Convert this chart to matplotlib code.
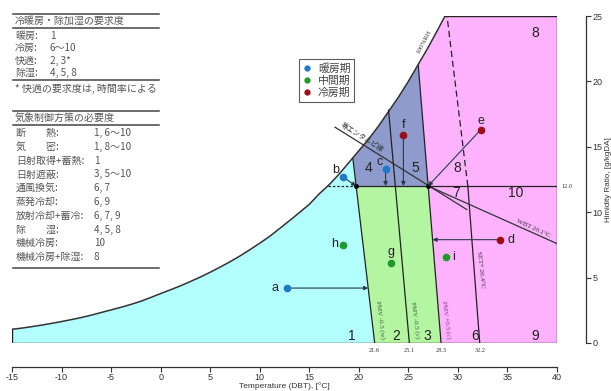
import numpy as np
import matplotlib.pyplot as plt
from matplotlib.lines import Line2D
from matplotlib.patches import Polygon

plt.rcParams['font.family'] = ['Noto Sans CJK JP', 'DejaVu Sans']
plt.rcParams['axes.unicode_minus'] = False

# 飽和曲線 (100%RH): 乾球温度 [°C], 絶対湿度 [g/kgDA]
sat_t = [-15, -14, -13, -12, -11, -10, -9, -8, -7, -6, -5, -4, -3, -2, -1, 0, 1, 2, 3, 4, 5,
         6, 7, 8, 9, 10, 11, 12, 13, 14, 15, 16, 17, 18, 19, 20, 21, 22, 23, 24, 25, 26, 27, 28, 28.7]
sat_w = [1.05, 1.14, 1.25, 1.37, 1.50, 1.64, 1.79, 1.95, 2.13, 2.33, 2.53, 2.73, 2.95, 3.19, 3.48,
         3.78, 4.07, 4.37, 4.70, 5.04, 5.41, 5.80, 6.21, 6.65, 7.13, 7.63, 8.15, 8.75, 9.35, 9.97,
         10.6, 11.4, 12.1, 12.9, 13.8, 14.7, 15.6, 16.6, 17.7, 18.8, 20.0, 21.3, 22.6, 24.0, 25.0]

# PMV線 (下端の温度と飽和曲線上の上端)
pmv_base = [21.6, 25.1, 28.3]
pmv_top_t = [19.4, 23.0, 26.0]
pmv_top_w = [14.1, 17.8, 21.2]
pmv_names = ['PMV -0.5 (w)', 'PMV -0.5 (c)', 'PMV +0.5 (c)']
pmv_colors = ['#3d5a3d', '#3d5a3d', '#8a2a8a']

# SET* 26.4°C
set_t = [32.2, 31.0, 28.9]
set_w = [0.0, 12.0, 25.0]

w_limit = 12.0
enth_t = [17.6, 30.9]
enth_w = [16.5, 10.2]
wbt_t = [27.0, 40.0]
wbt_w = [12.0, 7.6]

# 代表点
pt_names = ['a', 'b', 'c', 'd', 'e', 'f', 'g', 'h', 'i']
pt_t = [12.8, 18.4, 22.7, 34.2, 32.3, 24.5, 23.2, 18.4, 28.8]
pt_w = [4.2, 12.7, 13.3, 7.9, 16.3, 15.9, 6.1, 7.5, 6.6]
pt_season = ['暖房期', '暖房期', '暖房期', '冷房期', '冷房期', '冷房期', '中間期', '中間期', '中間期']
season_names = ['暖房期', '中間期', '冷房期']
season_colors = ['#1f78c8', '#1e9a2a', '#9a0f1a']

# 領域番号
zone_names = ['1', '2', '3', '4', '5', '6', '7', '8', '9', '10', '8']
zone_t = [19.3, 23.75, 26.95, 20.95, 25.7, 31.7, 29.8, 29.9, 37.8, 35.8, 37.8]
zone_w = [0.5, 0.5, 0.5, 13.4, 13.4, 0.5, 11.5, 13.4, 0.5, 11.5, 23.7]

# 表
tab1_title = '冷暖房・除加湿の要求度'
tab1_keys = ['暖房:', '冷房:', '快適:', '除湿:']
tab1_vals = ['1', '6〜10', '2, 3*', '4, 5, 8']
tab1_note = '* 快適の要求度は, 時間率による'
tab2_title = '気象制御方策の必要度'
tab2_keys = ['断　　熱:', '気　　密:', '日射取得+蓄熱:', '日射遮蔽:', '通風換気:', '蒸発冷却:',
             '放射冷却+蓄冷:', '除　　湿:', '機械冷房:', '機械冷房+除湿:']
tab2_vals = ['1, 6〜10', '1, 8〜10', '1', '3, 5〜10', '6, 7', '6, 9', '6, 7, 9', '4, 5, 8', '10', '8']

sat_t = np.array(sat_t)
sat_w = np.array(sat_w)


def pmv_t(i, w):
    return pmv_base[i] + (pmv_top_t[i] - pmv_base[i]) * w / pmv_top_w[i]


t1 = pmv_t(0, w_limit)
t3 = pmv_t(2, w_limit)
t_sat12 = np.interp(w_limit, sat_w, sat_t)

fig = plt.figure(figsize=(6.11, 3.91), dpi=100)
ax = fig.add_axes([12 / 611, 48 / 391, 545 / 611, 327 / 391])
ax.set_xlim(-15, 40)
ax.set_ylim(0, 25)

# 塗り分け
m = sat_t < pmv_top_t[0]
cyan = [(-15, 0), (pmv_base[0], 0), (pmv_top_t[0], pmv_top_w[0])] + list(zip(sat_t[m][::-1], sat_w[m][::-1]))
green = [(pmv_base[0], 0), (pmv_base[2], 0), (t3, w_limit), (t1, w_limit)]
m = (sat_t > pmv_top_t[0]) & (sat_t < pmv_top_t[2])
blue = [(t1, w_limit), (t3, w_limit), (pmv_top_t[2], pmv_top_w[2])] + \
    list(zip(sat_t[m][::-1], sat_w[m][::-1])) + [(pmv_top_t[0], pmv_top_w[0])]
m = sat_t > pmv_top_t[2]
pink = [(pmv_base[2], 0), (40, 0), (40, 25)] + list(zip(sat_t[m][::-1], sat_w[m][::-1])) + \
    [(pmv_top_t[2], pmv_top_w[2])]
for poly, col in [(cyan, '#b3ffff'), (green, '#b4f5a2'), (blue, '#8e9bcc'), (pink, '#ffb3ff')]:
    ax.add_patch(Polygon(poly, closed=True, facecolor=col, edgecolor='none'))

lc = '#222222'
ax.plot(sat_t, sat_w, color='#333333', lw=1.1)
ax.plot([-15, 40], [0, 0], color=lc, lw=1.0)
ax.plot([40, 40], [0, 25], color=lc, lw=1.0)
ax.plot([sat_t[-1], 40], [25, 25], color=lc, lw=1.0)
ax.plot([-15, -15], [0, sat_w[0]], color=lc, lw=1.0)
for i in range(3):
    ax.plot([pmv_base[i], pmv_top_t[i]], [0, pmv_top_w[i]], color=lc, lw=0.9)
ax.plot(set_t[:2], set_w[:2], color=lc, lw=0.9)
ax.plot(set_t[1:], set_w[1:], color=lc, lw=0.9, dashes=(5, 3))
ax.plot([t1, 40], [w_limit, w_limit], color=lc, lw=0.9)
ax.plot([t_sat12, t1], [w_limit, w_limit], color=lc, lw=0.9, dashes=(2, 1.5))
ax.plot(enth_t, enth_w, color='#333333', lw=0.9)
ax.plot(wbt_t, wbt_w, color='#333333', lw=0.9)
ax.plot([t1, t3], [w_limit, w_limit], 'o', color='black', ms=2.5)

# 線のラベル
serif = 'Liberation Serif'
for i in range(3):
    ax.text(pmv_base[i] + 0.55, 1.8, pmv_names[i], rotation=-83, fontsize=5, family=serif,
            color=pmv_colors[i], ha='center', va='center')
    ax.text(pmv_base[i], -0.55, f'{pmv_base[i]:.1f}', fontsize=4.5, family=serif,
            color='#333333', ha='center', va='center')
ax.text(set_t[0], -0.55, f'{set_t[0]:.1f}', fontsize=4.5, family=serif, color='#333333',
        ha='center', va='center')
ax.text(32.3, 5.6, 'SET* 26.4°C', rotation=-84, fontsize=5, family=serif, color='#333333',
        ha='center', va='center')
ax.text(40.5, w_limit, '12.0', fontsize=4.5, family=serif, color='#333333', ha='left', va='center')
ax.text(37.6, 8.75, 'WBT 20.1°C', rotation=-25, fontsize=5, family=serif, color='#333333',
        ha='center', va='center')
ax.text(26.6, 23.0, '100%RH', rotation=62, fontsize=5, family=serif, color='#333333',
        ha='center', va='center')
ax.text(20.3, 15.75, '等エンタルピ線', rotation=-32, fontsize=5, color='#333333',
        ha='center', va='center')

for name, t, w in zip(zone_names, zone_t, zone_w):
    ax.text(t, w, name, fontsize=10, color='#222222', ha='center', va='center', family='Liberation Sans')

# 代表点と矢印
for name, t, w, s in zip(pt_names, pt_t, pt_w, pt_season):
    ax.plot(t, w, 'o', color=season_colors[season_names.index(s)], ms=4.5, zorder=5)

arrow_to = {'a': (pmv_t(0, pt_w[0]), pt_w[0]), 'b': (t1, w_limit), 'c': (pt_t[2], w_limit),
            'd': (pmv_t(2, pt_w[3]), pt_w[3]), 'e': (t3, w_limit), 'f': (pt_t[5], w_limit)}
for name, t, w in zip(pt_names, pt_t, pt_w):
    if name in arrow_to:
        ax.annotate('', xy=arrow_to[name], xytext=(t, w),
                    arrowprops=dict(arrowstyle='-|>', color='#2a3a4a', lw=0.8,
                                    mutation_scale=6, shrinkA=2, shrinkB=0))

label_off = {'a': (-0.9, 0, 'right'), 'b': (-0.4, 0.55, 'right'), 'c': (-0.3, 0.55, 'right'),
             'd': (0.8, 0, 'left'), 'e': (0, 0.7, 'center'), 'f': (0, 0.8, 'center'),
             'g': (0, 0.85, 'center'), 'h': (-0.5, 0.05, 'right'), 'i': (0.6, 0, 'left')}
for name, t, w in zip(pt_names, pt_t, pt_w):
    dx, dy, ha = label_off[name]
    ax.text(t + dx, w + dy, name, fontsize=9, color='#222222', ha=ha, va='center',
            family='Liberation Sans')

# 軸
for s in ['top', 'left']:
    ax.spines[s].set_visible(False)
ax.spines['bottom'].set_position(('outward', 17))
ax.spines['right'].set_position(('outward', 21))
ax.spines['bottom'].set_bounds(-15, 40)
ax.spines['right'].set_bounds(0, 25)
for s in ['bottom', 'right']:
    ax.spines[s].set_color('#333333')
    ax.spines[s].set_linewidth(0.9)
ax.yaxis.tick_right()
ax.yaxis.set_label_position('right')
ax.set_xticks(range(-15, 41, 5))
ax.set_yticks(range(0, 26, 5))
ax.tick_params(labelsize=6.5, colors='#333333', length=3.5, width=0.8, pad=1)
for lab in ax.get_xticklabels() + ax.get_yticklabels():
    lab.set_family('Liberation Sans')
ax.set_xlabel('Temperature (DBT), [°C]', fontsize=6, color='#333333', labelpad=0,
              family='Liberation Sans')
ax.set_ylabel('Himidity Ratio, [g/kgDA]', fontsize=5.8, color='#333333', labelpad=1.5,
              family='Liberation Sans')

# 左上の表
ov = fig.add_axes([0, 0, 1, 1], facecolor='none')
ov.set_xlim(0, 611)
ov.set_ylim(391, 0)
ov.axis('off')
tc = '#555555'
fs = 7.2
for y in [13.5, 27.5, 79.5, 110.5, 125, 267.5]:
    ov.plot([13, 159], [y, y], color='#444444', lw=1.1)
ov.text(15, 21, tab1_title, fontsize=fs, color=tc, va='center')
for k, (key, val) in enumerate(zip(tab1_keys, tab1_vals)):
    y = 36 + 12.3 * k
    ov.text(15, y, key, fontsize=fs, color=tc, va='center')
    ov.text(50, y, val, fontsize=fs, color=tc, va='center')
ov.text(15, 88.5, tab1_note, fontsize=fs, color=tc, va='center')
ov.text(15, 118, tab2_title, fontsize=fs, color=tc, va='center')
for k, (key, val) in enumerate(zip(tab2_keys, tab2_vals)):
    y = 133 + 13.8 * k
    ov.text(16, y, key, fontsize=fs, color=tc, va='center')
    ov.text(94, y, val, fontsize=fs, color=tc, va='center')

handles = [Line2D([], [], ls='none', marker='o', ms=3.5, color=c) for c in season_colors]
leg = ov.legend(handles, season_names, loc='upper left', bbox_to_anchor=(299, 59),
                bbox_transform=ov.transData, fontsize=7.8, frameon=True, fancybox=False,
                handlelength=0.8, handletextpad=0.6, labelspacing=0.2, borderpad=0.35,
                borderaxespad=0)
leg.get_frame().set_edgecolor('#333333')
leg.get_frame().set_linewidth(0.8)
for t in leg.get_texts():
    t.set_color('#444444')

fig.savefig('out.png', dpi=100)
